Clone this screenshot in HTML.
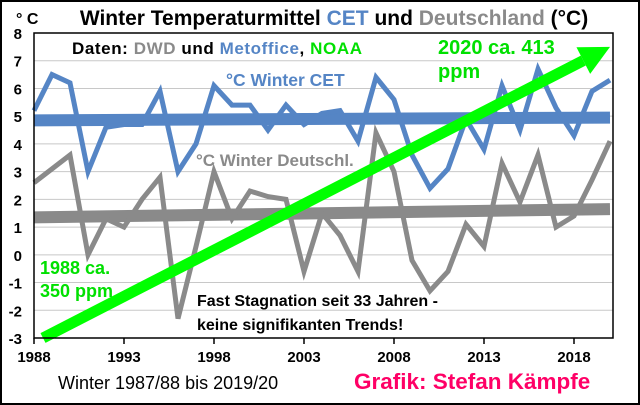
<!DOCTYPE html>
<html><head><meta charset="utf-8"><style>
body{margin:0;background:#fff}
svg{display:block;font-family:"Liberation Sans",sans-serif;font-weight:bold}
</style></head><body>
<svg id="chart" width="640" height="405" viewBox="0 0 640 405">
<rect x="1" y="1" width="638" height="403" fill="#fff" stroke="#000" stroke-width="2"/>
<text x="334" y="25" font-size="21" text-anchor="middle">Winter Temperaturmittel <tspan fill="#5585c5">CET</tspan> und <tspan fill="#8a8a8a">Deutschland</tspan> (°C)</text>
<text x="16" y="24" font-size="16">° C</text>
<g id="grid"></g>
<g id="yticks"></g>
<g id="xticks"></g>
<g id="series"></g>
<rect x="34" y="33" width="579" height="305" fill="none" stroke="#000" stroke-width="1.5"/>
<text x="72" y="54" font-size="17" textLength="290">Daten: <tspan fill="#8a8a8a">DWD</tspan> und <tspan fill="#5585c5">Metoffice</tspan>, <tspan fill="#00e000">NOAA</tspan></text>
<text x="226" y="86" font-size="17.5" fill="#5585c5">°C Winter CET</text>
<text x="196" y="166" font-size="17" fill="#8a8a8a">°C Winter Deutschl.</text>
<text x="438" y="54" font-size="20" fill="#00e000">2020 ca. 413</text>
<text x="438" y="78" font-size="20" fill="#00e000">ppm</text>
<text x="40" y="274" font-size="18" fill="#00e000">1988 ca.</text>
<text x="40" y="297" font-size="18" fill="#00e000">350 ppm</text>
<text x="197" y="306" font-size="16">Fast Stagnation seit 33 Jahren -</text>
<text x="197" y="330" font-size="16">keine signifikanten Trends!</text>
<text x="58" y="389" font-size="18" font-weight="normal">Winter 1987/88 bis 2019/20</text>
<text x="354" y="389" font-size="22.5" fill="#ff0066">Grafik: Stefan Kämpfe</text>
</svg>
<script>
const years=[1988,1989,1990,1991,1992,1993,1994,1995,1996,1997,1998,1999,2000,2001,2002,2003,2004,2005,2006,2007,2008,2009,2010,2011,2012,2013,2014,2015,2016,2017,2018,2019,2020];
const cet=[5.2,6.5,6.2,3.0,4.6,4.7,4.7,5.9,3.0,4.0,6.1,5.4,5.4,4.5,5.4,4.7,5.1,5.2,4.1,6.4,5.6,3.6,2.4,3.1,4.9,3.8,6.1,4.5,6.7,5.3,4.3,5.9,6.3];
const de=[2.6,3.1,3.6,0.0,1.3,1.0,2.0,2.8,-2.3,0.3,3.0,1.3,2.3,2.1,2.0,-0.6,1.5,0.7,-0.6,4.4,3.0,-0.2,-1.3,-0.6,1.1,0.3,3.3,1.9,3.6,1.0,1.4,2.7,4.1];
const cetTrend=[4.85,4.95];
const deTrend=[1.35,1.65];
const co2Arrow=[[1988.5,-3],[2020,7.5]];
const yTicks=[-3,-2,-1,0,1,2,3,4,5,6,7,8];
const xTicks=[1988,1993,1998,2003,2008,2013,2018];
const NS='http://www.w3.org/2000/svg';
const X=v=>34+(v-1988)*18;
const Y=v=>33+(8-v)*27.727;
function mk(p,t,a){const e=document.createElementNS(NS,t);for(const k in a)e.setAttribute(k,a[k]);p.appendChild(e);return e;}
const grid=document.getElementById('grid'),yt=document.getElementById('yticks'),xt=document.getElementById('xticks'),s=document.getElementById('series');
yTicks.forEach(v=>{
 const l=mk(grid,'line',{x1:34,x2:613,y1:Y(v),y2:Y(v),stroke:'#c8c8c8','stroke-width':1});
 
 
 const t=mk(yt,'text',{x:22,y:Y(v)+6,'font-size':15,'text-anchor':'end'});t.textContent=v;
 
 
});
xTicks.forEach(v=>{
 const l=mk(xt,'line',{x1:X(v),x2:X(v),y1:338,y2:344,stroke:'#000','stroke-width':1.5});
 
 
 const t=mk(xt,'text',{x:X(v),y:362,'font-size':15,'text-anchor':'middle'});t.textContent=v;
 
 
});
function line(vals,col,w,name){
 const p=mk(s,'polyline',{points:vals.map((v,i)=>X(years[i])+','+Y(v)).join(' '),fill:'none',stroke:col,'stroke-width':w,'stroke-linejoin':'miter'});
 
 
}
function trend(tr,col,name){
 const p=mk(s,'line',{x1:X(years[0]),x2:X(years[years.length-1]),y1:Y(tr[0]),y2:Y(tr[1]),stroke:col,'stroke-width':12});
 
 
}
trend(deTrend,'#8a8a8a','trend-deutschland');
line(de,'#8a8a8a',5,'series-deutschland');
trend(cetTrend,'#5585c5','trend-cet');
line(cet,'#5585c5',5,'series-cet');
const ax1=X(co2Arrow[0][0]),ay1=Y(co2Arrow[0][1]),ax2=X(co2Arrow[1][0]),ay2=Y(co2Arrow[1][1]);
const ang=Math.atan2(ay2-ay1,ax2-ax1),L=30,W=15;
const bx=ax2-L*Math.cos(ang),by=ay2-L*Math.sin(ang);
const sh=mk(s,'line',{x1:ax1,y1:ay1,x2:bx,y2:by,stroke:'#00ff00','stroke-width':11});


const hd=mk(s,'polygon',{points:[ax2+','+ay2,(bx+W*Math.sin(ang))+','+(by-W*Math.cos(ang)),(bx-W*Math.sin(ang))+','+(by+W*Math.cos(ang))].join(' '),fill:'#00ff00'});


</script>
</body></html>
